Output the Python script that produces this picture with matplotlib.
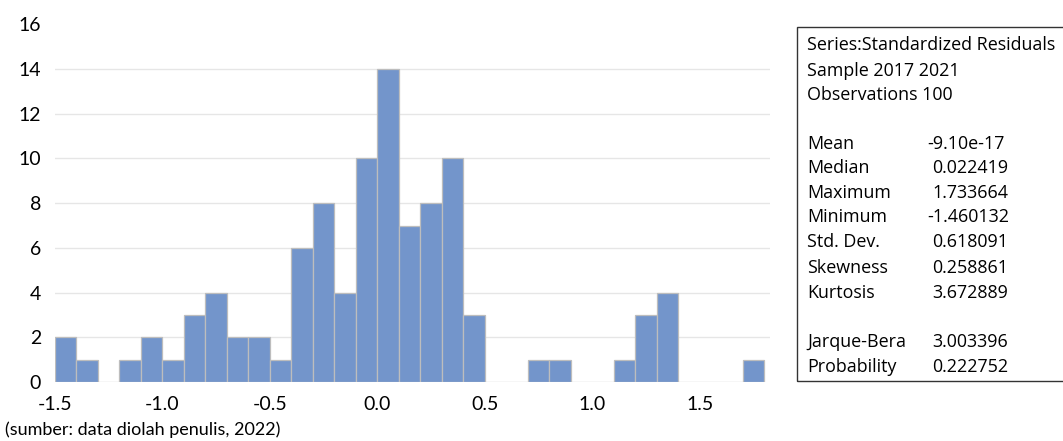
import matplotlib
matplotlib.use("Agg")
import matplotlib.pyplot as plt
from matplotlib.patches import Rectangle
from matplotlib import font_manager

# ---- data ----
bin_lefts = [-1.5, -1.4, -1.3, -1.2, -1.1, -1.0, -0.9, -0.8, -0.7, -0.6,
             -0.5, -0.4, -0.3, -0.2, -0.1, 0.0, 0.1, 0.2, 0.3, 0.4,
             0.5, 0.6, 0.7, 0.8, 0.9, 1.0, 1.1, 1.2, 1.3, 1.4,
             1.5, 1.6, 1.7]
counts = [2, 1, 0, 1, 2, 1, 3, 4, 2, 2,
          1, 6, 8, 4, 10, 14, 7, 8, 10, 3,
          0, 0, 1, 1, 0, 0, 1, 3, 4, 0,
          0, 0, 1]
bin_width = 0.1
x_ticks = [-1.5, -1.0, -0.5, 0.0, 0.5, 1.0, 1.5]
x_tick_labels = ["-1.5", "-1.0", "-0.5", "0.0", "0.5", "1.0", "1.5"]
y_ticks = [0, 2, 4, 6, 8, 10, 12, 14, 16]

header_lines = ["Series:Standardized Residuals", "Sample 2017 2021", "Observations 100"]
stat_names = ["Mean", "Median", "Maximum", "Minimum", "Std. Dev.", "Skewness", "Kurtosis"]
stat_values = ["-9.10e-17", "0.022419", "1.733664", "-1.460132", "0.618091", "0.258861", "3.672889"]
test_names = ["Jarque-Bera", "Probability"]
test_values = ["3.003396", "0.222752"]
caption = "(sumber: data diolah penulis, 2022)"

W, H = 1063, 441
fig = plt.figure(figsize=(W / 100, H / 100), dpi=100)
ax = fig.add_axes([55 / W, 1 - 382 / H, (770 - 55) / W, (382 - 24.3) / H])

tick_font = "Lato"
for yv in y_ticks[1:-1]:
    ax.axhline(yv, color="#E6E6E6", lw=1.0, zorder=0)
ax.bar(bin_lefts, counts, width=bin_width, align="edge",
       color="#7395CB", edgecolor="#BDBDBD", linewidth=0.9, zorder=2)
ax.set_xlim(-1.5, 1.826)
ax.set_ylim(0, 16)
ax.set_xticks(x_ticks)
ax.set_xticklabels(x_tick_labels, fontsize=14, family=tick_font)
ax.set_yticks(y_ticks)
ax.set_yticklabels([str(v) for v in y_ticks], fontsize=14, family=tick_font)
ax.tick_params(axis="both", length=0)
ax.tick_params(axis="x", pad=10)
ax.tick_params(axis="y", pad=10)
for s in ax.spines.values():
    s.set_visible(False)

# caption
names = {f.name for f in font_manager.fontManager.ttflist}
if "Liberation Sans Narrow" in names:
    cap_font, cap_fs = "Liberation Sans Narrow", 15.6
else:
    cap_font, cap_fs = "Lato", 13.0
fig.text(5 / W, 1 - 430 / H, caption, fontsize=cap_fs, family=cap_font,
         ha="left", va="center")

# stats box
fig.patches.append(Rectangle((797 / W, 1 - 381 / H), (1080 - 797) / W, (381 - 27) / H,
                             transform=fig.transFigure, fill=False,
                             edgecolor="#333333", lw=1.0, clip_on=False))
box_font = "Open Sans"
fs = 12.9
lx = 807 / W
vx = 932 / W
vx_neg = 927 / W
ys = [45, 71, 95]
for y, t in zip(ys, header_lines):
    fig.text(lx, 1 - y / H, t, fontsize=fs, family=box_font, ha="left", va="center")
stat_ys = [144, 168, 193, 217, 242, 268, 293]
for y, n, v in zip(stat_ys, stat_names, stat_values):
    fig.text(lx, 1 - y / H, n, fontsize=fs, family=box_font, ha="left", va="center")
    fig.text(vx_neg if v.startswith("-") else vx, 1 - y / H, v, fontsize=fs,
             family=box_font, ha="left", va="center")
test_ys = [342, 367]
for y, n, v in zip(test_ys, test_names, test_values):
    fig.text(lx, 1 - y / H, n, fontsize=fs, family=box_font, ha="left", va="center")
    fig.text(vx, 1 - y / H, v, fontsize=fs, family=box_font, ha="left", va="center")

fig.savefig("out.png", dpi=100)
